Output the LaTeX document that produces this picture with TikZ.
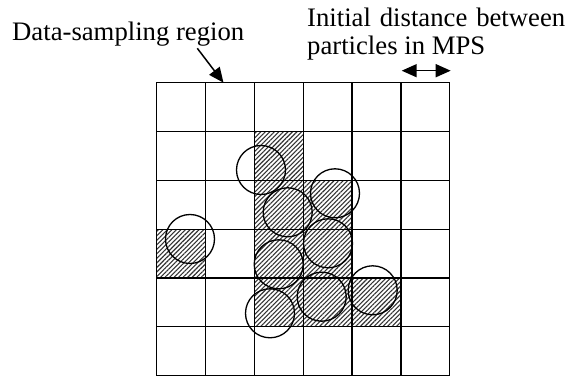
\documentclass[tikz,border=0pt]{standalone}
\usepackage{fontspec}
\setmainfont{Liberation Serif}
\usetikzlibrary{patterns.meta,arrows.meta}
\begin{document}
\begin{tikzpicture}[x=1pt,y=-1pt,
  gridline/.style={line width=1.3pt},
  hatch/.style={pattern={Lines[angle=45,distance=3.2pt,line width=1.1pt]},pattern color=black!80},
  particle/.style={circle,draw,line width=1.3pt,minimum size=49pt,inner sep=0pt},
  lbl/.style={font=\fontsize{26.7pt}{28pt}\selectfont,inner sep=0pt},
  pointer/.style={line width=1.5pt,-{Triangle[length=15pt,width=13pt]}},
  dimarrow/.style={line width=1.5pt,{Triangle[length=15pt,width=13pt]}-{Triangle[length=15pt,width=13pt]}}
]
\useasboundingbox (0,0) rectangle (587,379);
\def\cs{48.83}
% hatched cells (col,row)
\foreach \c/\r in {2/1,2/2,2/3,2/4,3/2,3/3,3/4,4/4,0/3}{
  \fill[hatch] (156.7+\c*\cs,82.7+\r*\cs) rectangle ++(\cs,\cs);
}
% grid
\foreach \k in {0,...,6}{
  \draw[gridline,line cap=rect] (156.7+\k*\cs,82.7) -- (156.7+\k*\cs,375.7);
  \draw[gridline,line cap=rect] (156.7,82.7+\k*\cs) -- (449.7,82.7+\k*\cs);
}
% particles
\foreach \x/\y [count=\i] in {261/170, 287.7/212.3, 335/193.3, 190/239, 328/243.3, 278.7/264.3, 321.7/296.7, 372.7/290.3, 270/313.3}{
  \node[particle] (p\i) at (\x,\y) {};
}
% labels
\node[lbl,anchor=base west] (dsr) at (12,40.7) {Data-sampling region};
\node[lbl,anchor=base west] (idl1) at (307,26.7) {\hbox to 258pt{Initial\hfil\ distance\hfil\ between}};
\node[lbl,anchor=base west] (idl2) at (307,54.5) {particles in MPS};
% arrows
\coordinate (a1) at (197.3,48.3);
\coordinate (a2) at (223.5,82.7);
\draw[pointer] (a1) -- (a2);
\coordinate (d1) at (401.7,70.7);
\coordinate (d2) at (450.7,70.7);
\draw[dimarrow] (d1) -- (d2);
\end{tikzpicture}
\end{document}
